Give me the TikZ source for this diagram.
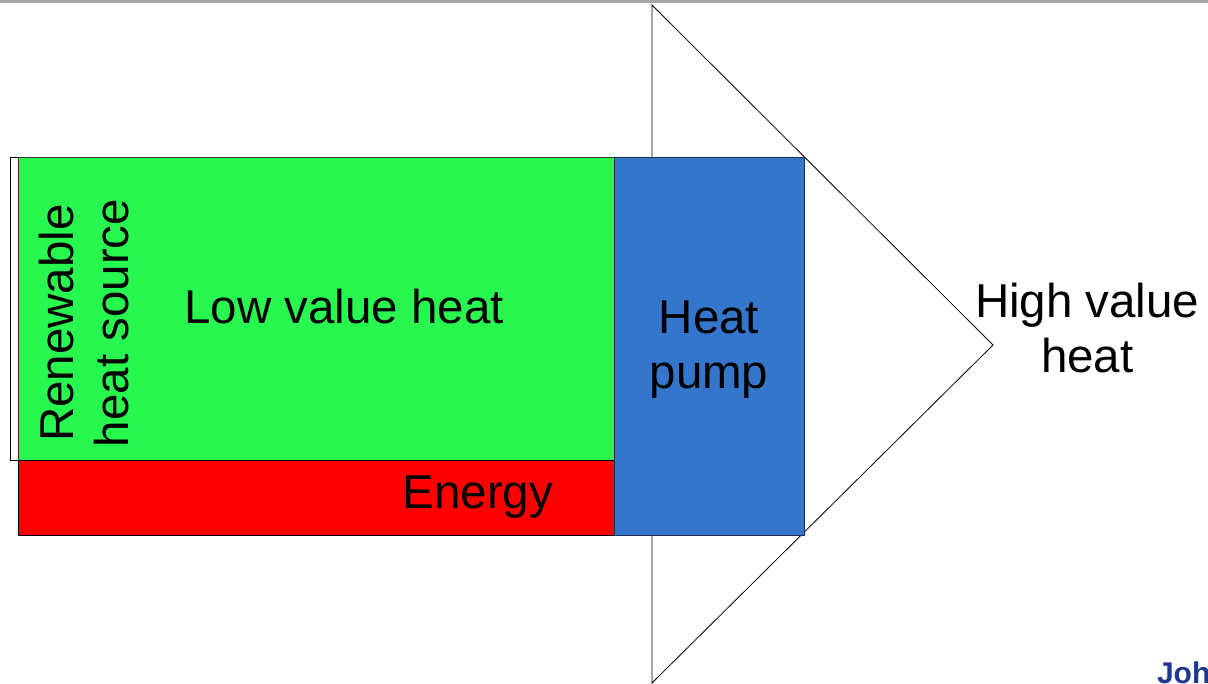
\documentclass[tikz,border=0pt]{standalone}
\usepackage{fontspec}
\setmainfont{Liberation Sans}
\usetikzlibrary{positioning,calc}

\definecolor{lowgreen}{RGB}{40,247,80}
\definecolor{pumpblue}{RGB}{52,118,204}
\definecolor{pumpedge}{RGB}{25,45,90}
\definecolor{logoblue}{RGB}{30,55,145}

\begin{document}
\begin{tikzpicture}[
  x=1pt, y=-1pt,
  every node/.style={inner sep=0pt, outer sep=0pt},
  block/.style={
    rectangle, anchor=north west,
    draw=black, line width=0.8pt,
  },
  lbl/.style={font=\fontsize{47.5}{55}\selectfont, align=center},
]
\useasboundingbox (0,0) rectangle (1208,684);

% ----- gray strip along the top -----
\fill[black!35] (0,0) rectangle (1208,3);

% ----- big arrow head behind the blocks -----
\coordinate (T1) at (652,5);
\coordinate (T2) at (993,345);
\coordinate (T3) at (652,683);
\draw[fill=white, line width=0.8pt] (T1) -- (T2) -- (T3) -- cycle;

% ----- blocks -----
\node[block, fill=white, minimum width=604, minimum height=303] (RB) at (10,157) {};
\node[block, fill=lowgreen, draw=black!80, minimum width=596, minimum height=303] (LV) at (18,157) {};
\node[block, fill=red, minimum width=596, minimum height=75] (EN) at (18,460) {};
\node[block, fill=pumpblue, draw=pumpedge, minimum width=190, minimum height=378] (HP) at (614,157) {};

% ----- labels -----
\node[lbl, rotate=90] (RBtxt) at (84,323) {Renewable\\heat source};
\node[lbl] (LVtxt) at (344,307) {Low value heat};
\node[lbl, anchor=east] (ENtxt) at ($(EN.east)+(-61,0)$) {Energy};
\node[lbl] (HPtxt) at ($(HP.center)+(0,4)$) {Heat\\pump};
\node[lbl, anchor=west] (HVtxt) at (975,328) {High value\\heat};

% ----- logo text, cut off by the page edge -----
\node[anchor=south west, font=\bfseries\fontsize{30}{34}\selectfont, text=logoblue]
  (logo) at (1157,684) {Joh};

\end{tikzpicture}
\end{document}
